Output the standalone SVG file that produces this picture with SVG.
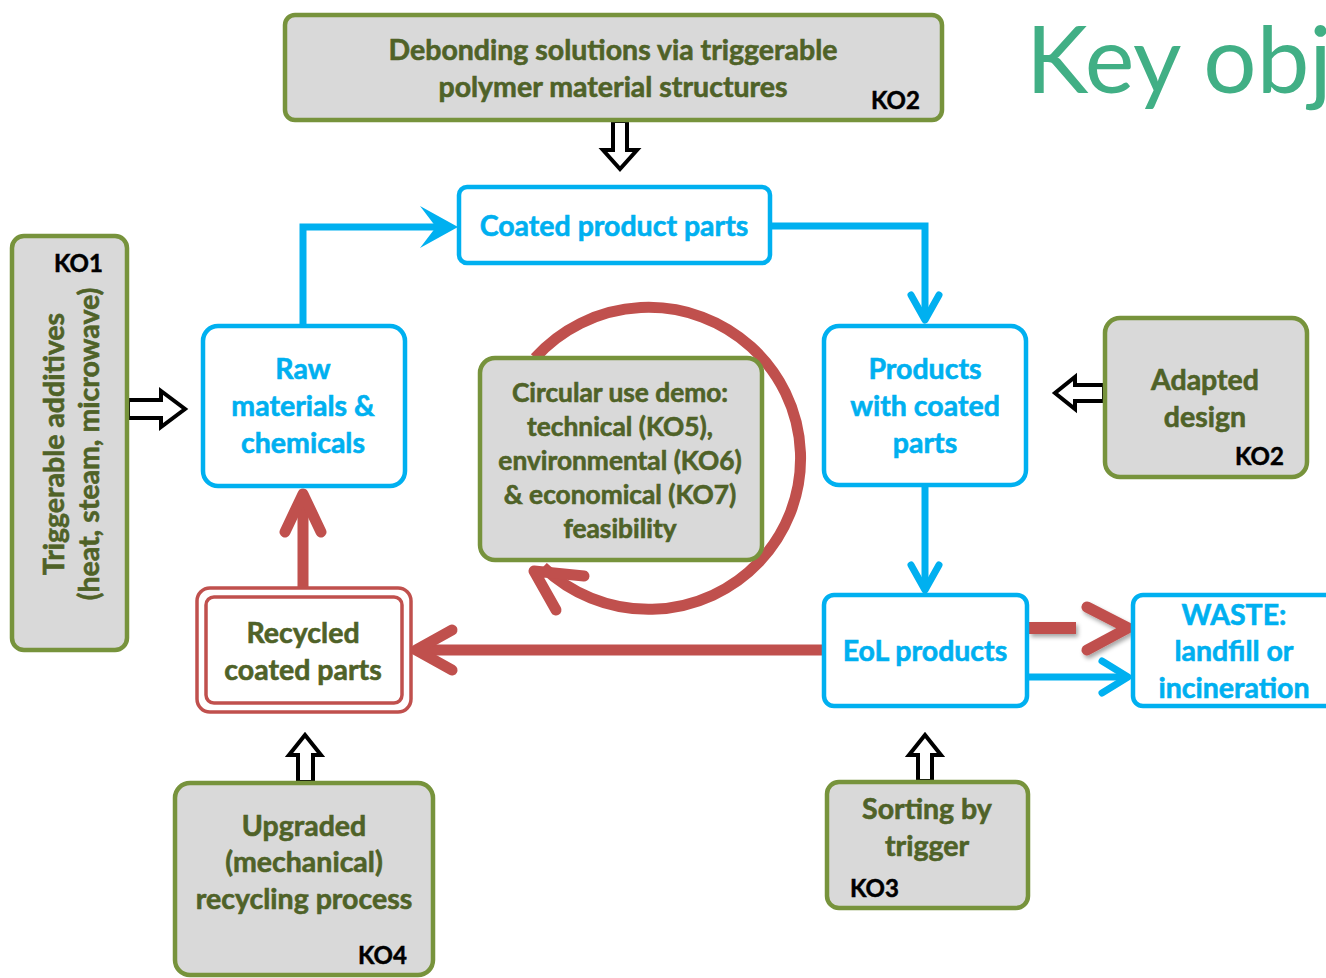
<svg xmlns="http://www.w3.org/2000/svg" width="1326" height="978" viewBox="0 0 1326 978">
<defs>
<style>
.gbox{fill:#D9D9D9;stroke:#77933C;stroke-width:4.5}
.bbox{fill:#FFFFFF;stroke:#00B0F0;stroke-width:4.5}
.gt{font-family:Lato,"Liberation Sans",sans-serif;font-weight:bold;font-size:28.5px;fill:#4F6228;stroke:#4F6228;stroke-width:0.6;text-anchor:middle}
.bt{font-family:Lato,"Liberation Sans",sans-serif;font-weight:bold;font-size:28.5px;fill:#00B0F0;stroke:#00B0F0;stroke-width:0.6;text-anchor:middle}
.gt.ct{font-size:26.3px}
.ko{font-family:Lato,"Liberation Sans",sans-serif;font-weight:bold;font-size:24px;fill:#000000;stroke:#000000;stroke-width:0.5}
.hol{fill:#FFFFFF;stroke:#000000;stroke-width:4;stroke-linejoin:miter}
.bl{fill:none;stroke:#00B0F0;stroke-width:7}
.bh{fill:none;stroke:#00B0F0;stroke-width:7;stroke-linecap:round;stroke-linejoin:round}
.rl{fill:none;stroke:#C0504D;stroke-width:11}
.rh{fill:none;stroke:#C0504D;stroke-width:11;stroke-linecap:round;stroke-linejoin:round}
</style>
<filter id="sh" x="-20%" y="-20%" width="150%" height="160%">
<feDropShadow dx="2" dy="3" stdDeviation="2" flood-color="#000" flood-opacity="0.35"/>
</filter>
</defs>
<rect width="1326" height="978" fill="#FFFFFF"/>

<text x="1026" y="93" font-family="Lato,'Liberation Sans',sans-serif" font-size="94" fill="#41AF85">Key obj</text>

<g id="connectors">
<!-- blue flow -->
<polyline class="bl" points="303,326 303,227 440,227"/>
<path d="M458,227 L420,206 L436,227 L420,248 Z" fill="#00B0F0"/>
<polyline class="bl" points="770,226 925,226 925,318"/>
<polyline class="bh" points="911,295 925,320 939,295"/>
<line class="bl" x1="925" y1="486" x2="925" y2="588"/>
<polyline class="bh" points="911,565 925,590 939,565"/>
<line class="bl" x1="1027" y1="677" x2="1126" y2="677"/>
<polyline class="bh" points="1102,661 1128,677 1102,693"/>
<!-- red flow -->
<line class="rl" x1="303" y1="588" x2="303" y2="498"/>
<polyline class="rh" points="285,532 303,494 321,532"/>
<line class="rl" x1="824" y1="650" x2="420" y2="650"/>
<polyline class="rh" points="452,630 416,650 452,670"/>
<g filter="url(#sh)">
<line x1="1029" y1="628" x2="1076" y2="628" stroke="#C0504D" stroke-width="12"/>
<polyline class="rh" points="1087,607 1128,628 1087,650"/>
</g>
<!-- circular arrow -->
<path class="rl" d="M535,358 A152,151 0 1 1 543,567"/>
<polyline class="rh" points="584,576 534,571 556,610"/>
<!-- hollow arrows -->
<polygon class="hol" points="613,121 627,121 627,150 637,150 620,169 603,150 613,150"/>
<polygon class="hol" points="128,400 161,400 161,391 185,409 161,427 161,418 128,418"/>
<polygon class="hol" points="1104,385 1075,385 1075,377 1055,393 1075,409 1075,401 1104,401"/>
<polygon class="hol" points="298,782 298,755 289,755 305,735 321,755 313,755 313,782"/>
<polygon class="hol" points="918,781 918,755 909,755 925,735 941,755 932,755 932,781"/>
</g>

<g id="n-debond">
<rect class="gbox" x="285" y="15" width="657" height="105" rx="10"/>
<text class="gt" x="613" y="60">Debonding solutions via triggerable</text>
<text class="gt" x="613" y="97">polymer material structures</text>
<text class="ko" x="871" y="109">KO2</text>
</g>

<g id="n-coated">
<rect class="bbox" x="459" y="187" width="311" height="76" rx="8"/>
<text class="bt" x="614" y="236">Coated product parts</text>
</g>

<g id="n-ko1">
<rect class="gbox" x="12" y="236" width="115" height="414" rx="12"/>
<text class="ko" x="54" y="272">KO1</text>
<text class="gt" transform="translate(64,444) rotate(-90)">Triggerable additives</text>
<text class="gt" transform="translate(99,444) rotate(-90)">(heat, steam, microwave)</text>
</g>

<g id="n-raw">
<rect class="bbox" x="203" y="326" width="202" height="160" rx="15"/>
<text class="bt" x="303" y="379">Raw</text>
<text class="bt" x="303" y="416">materials &amp;</text>
<text class="bt" x="303" y="453">chemicals</text>
</g>

<g id="n-circular">
<rect class="gbox" x="480" y="358" width="282" height="202" rx="15"/>
<text class="gt ct" x="620" y="402">Circular use demo:</text>
<text class="gt ct" x="620" y="436">technical (KO5),</text>
<text class="gt ct" x="620" y="470">environmental (KO6)</text>
<text class="gt ct" x="620" y="504">&amp; economical (KO7)</text>
<text class="gt ct" x="620" y="538">feasibility</text>
</g>

<g id="n-products">
<rect class="bbox" x="824" y="326" width="202" height="159" rx="15"/>
<text class="bt" x="925" y="379">Products</text>
<text class="bt" x="925" y="416">with coated</text>
<text class="bt" x="925" y="453">parts</text>
</g>

<g id="n-adapted">
<rect class="gbox" x="1105" y="318" width="202" height="159" rx="15"/>
<text class="gt" x="1205" y="390">Adapted</text>
<text class="gt" x="1205" y="427">design</text>
<text class="ko" x="1235" y="465">KO2</text>
</g>

<g id="n-recycled">
<rect x="197" y="588" width="214" height="124" rx="13" fill="#FFFFFF" stroke="#C0504D" stroke-width="3.5"/>
<rect x="206" y="597" width="196" height="106" rx="8" fill="none" stroke="#C0504D" stroke-width="3.5"/>
<text class="gt" x="303" y="643">Recycled</text>
<text class="gt" x="303" y="680">coated parts</text>
</g>

<g id="n-eol">
<rect class="bbox" x="824" y="595" width="203" height="111" rx="10"/>
<text class="bt" x="925" y="661">EoL products</text>
</g>

<g id="n-waste">
<rect class="bbox" x="1133" y="595" width="210" height="111" rx="10"/>
<text class="bt" x="1234" y="625">WASTE:</text>
<text class="bt" x="1234" y="661">landfill or</text>
<text class="bt" x="1234" y="698">incineration</text>
</g>

<g id="n-upgraded">
<rect class="gbox" x="175" y="783" width="258" height="192" rx="15"/>
<text class="gt" x="304" y="836">Upgraded</text>
<text class="gt" x="304" y="872">(mechanical)</text>
<text class="gt" x="304" y="909">recycling process</text>
<text class="ko" x="358" y="964">KO4</text>
</g>

<g id="n-sorting">
<rect class="gbox" x="827" y="782" width="201" height="126" rx="12"/>
<text class="gt" x="927" y="819">Sorting by</text>
<text class="gt" x="927" y="856">trigger</text>
<text class="ko" x="850" y="897">KO3</text>
</g>
</svg>
